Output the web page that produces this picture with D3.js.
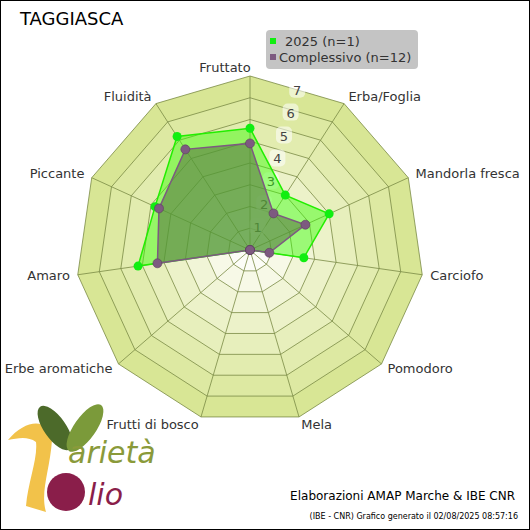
<!DOCTYPE html>
<html><head><meta charset="utf-8">
<script src="https://cdn.jsdelivr.net/npm/d3@7"></script>
<style>body{margin:0;background:#fff}text{font-family:Verdana,"DejaVu Sans",sans-serif}</style>
</head><body><div id="chart"></div>
<script>
const axes = ['Fruttato', 'Erba/Foglia', 'Mandorla fresca', 'Carciofo', 'Pomodoro', 'Mela',
  'Frutti di bosco', 'Erbe aromatiche', 'Amaro', 'Piccante', 'Fluidità'];
const series2025 = [5.6, 3.0, 4.0, 2.5, 0, 0, 0, 0, 5.2, 4.8, 6.2];
const seriesAll = [4.9, 2.0, 2.8, 0.9, 0, 0, 0, 0, 4.3, 4.6, 5.5];
const ringLabels = [1, 2, 3, 4, 5, 6, 7];
const maxVal = 8;

const W = 530, H = 530, cx = 250, cy = 250;
const svg = d3.select('#chart').append('svg').attr('width', W).attr('height', H);
svg.append('rect').attr('x', 0.5).attr('y', 0.5).attr('width', W - 1).attr('height', H - 1)
  .attr('fill', '#fff').attr('stroke', '#000');

const r = d3.scaleLinear().domain([0, maxVal]).range([0, 174]);
const ang = d3.scaleLinear().domain([0, axes.length]).range([0, 2 * Math.PI]);
const pt = (i, v) => [cx + r(v) * Math.sin(ang(i)), cy - r(v) * Math.cos(ang(i))];
const poly = (vals) => vals.map((v, i) => pt(i, v));

// rings, outermost first, lighter towards the centre
const ringColor = d3.scaleLinear().domain([0, 3, maxVal]).range(['#ffffff', '#eef3cf', '#d6e48f']);
for (let k = maxVal; k >= 1; k--) {
  svg.append('path')
    .attr('d', d3.line()(poly(axes.map(() => k))) + 'Z')
    .attr('fill', ringColor(k - 0.5))
    .attr('stroke', '#7a8a45').attr('stroke-width', 0.8);
}
axes.forEach((a, i) => {
  const [x, y] = pt(i, maxVal);
  svg.append('line').attr('x1', cx).attr('y1', cy).attr('x2', x).attr('y2', y)
    .attr('stroke', '#7a8a45').attr('stroke-width', 0.8);
});

// ring value labels
ringLabels.forEach((v) => {
  const y = cy - v * 22.9;
  const x = cx + 1 + v * 6.6;
  svg.append('rect').attr('x', x - 8).attr('y', y - 9).attr('width', 16).attr('height', 17)
    .attr('rx', 5).attr('fill', '#fff').attr('opacity', 0.55);
  svg.append('text').attr('x', x).attr('y', y + 5).attr('text-anchor', 'middle')
    .attr('font-size', 13).attr('fill', '#444').text(v);
});

// series
svg.append('path').attr('d', d3.line()(poly(series2025)) + 'Z')
  .attr('fill', '#33ff00').attr('fill-opacity', 0.45).attr('stroke', '#22ee00').attr('stroke-width', 1.5);
svg.append('path').attr('d', d3.line()(poly(seriesAll)) + 'Z')
  .attr('fill', '#5c7a45').attr('fill-opacity', 0.6).attr('stroke', '#7d5a80').attr('stroke-width', 1.5);
poly(series2025).forEach(([x, y]) => svg.append('circle').attr('cx', x).attr('cy', y).attr('r', 4.5).attr('fill', '#11ee11'));
poly(seriesAll).forEach(([x, y]) => svg.append('circle').attr('cx', x).attr('cy', y).attr('r', 4.5)
  .attr('fill', '#7d5a80').attr('stroke', '#5a3d5c').attr('stroke-width', 0.6));

// axis labels
axes.forEach((a, i) => {
  const s = Math.sin(ang(i));
  const rr = 182;
  const x = cx + rr * s, y = cy - rr * Math.cos(ang(i));
  svg.append('text').attr('x', x).attr('y', y + 4)
    .attr('text-anchor', Math.abs(s) < 0.05 ? 'middle' : (s > 0 ? 'start' : 'end'))
    .attr('dx', i === 0 ? -25 : 0)
    .attr('font-size', 13).attr('fill', '#333').text(a);
});

// title and legend
svg.append('text').attr('x', 20).attr('y', 25).attr('font-size', 18).attr('fill', '#000').text('TAGGIASCA');
svg.append('rect').attr('x', 266).attr('y', 30).attr('width', 152).attr('height', 39).attr('rx', 4).attr('fill', '#c4c4c4');
svg.append('rect').attr('x', 270).attr('y', 38).attr('width', 6).attr('height', 6).attr('fill', '#11ee11');
svg.append('text').attr('x', 285).attr('y', 46).attr('font-size', 13).attr('fill', '#333').text('2025 (n=1)');
svg.append('rect').attr('x', 270).attr('y', 54).attr('width', 6).attr('height', 6).attr('fill', '#7d5a80');
svg.append('text').attr('x', 279).attr('y', 62).attr('font-size', 13).attr('fill', '#333').text('Complessivo (n=12)');

// logo approximation
svg.append('path').attr('d', 'M8,440 C26,418 50,418 52,440 C50,470 40,492 46,512 L26,506 C28,482 38,458 36,442 C28,436 18,438 8,440Z')
  .attr('fill', '#f2c24a');
svg.append('ellipse').attr('cx', 55).attr('cy', 428).attr('rx', 11).attr('ry', 26)
  .attr('transform', 'rotate(-35 55 428)').attr('fill', '#4c6a2a');
svg.append('ellipse').attr('cx', 85).attr('cy', 428).attr('rx', 11).attr('ry', 28)
  .attr('transform', 'rotate(35 85 428)').attr('fill', '#7b9a3a');
svg.append('text').attr('x', 68).attr('y', 463).attr('font-size', 30).attr('font-style', 'italic')
  .attr('font-family', 'DejaVu Serif').attr('fill', '#8a9a3a').text('arietà');
svg.append('circle').attr('cx', 66).attr('cy', 492).attr('r', 19).attr('fill', '#8a1e4a');
svg.append('text').attr('x', 88).attr('y', 505).attr('font-size', 30).attr('font-style', 'italic')
  .attr('font-family', 'DejaVu Serif').attr('fill', '#8a1e4a').text('lio');

// footer
svg.append('text').attr('x', 515).attr('y', 500).attr('text-anchor', 'end').attr('font-size', 12)
  .attr('fill', '#000').text('Elaborazioni AMAP Marche & IBE CNR');
svg.append('text').attr('x', 518).attr('y', 519).attr('text-anchor', 'end').attr('font-size', 8)
  .attr('fill', '#000').text('(IBE - CNR) Grafico generato il 02/08/2025 08:57:16');
</script></body></html>
